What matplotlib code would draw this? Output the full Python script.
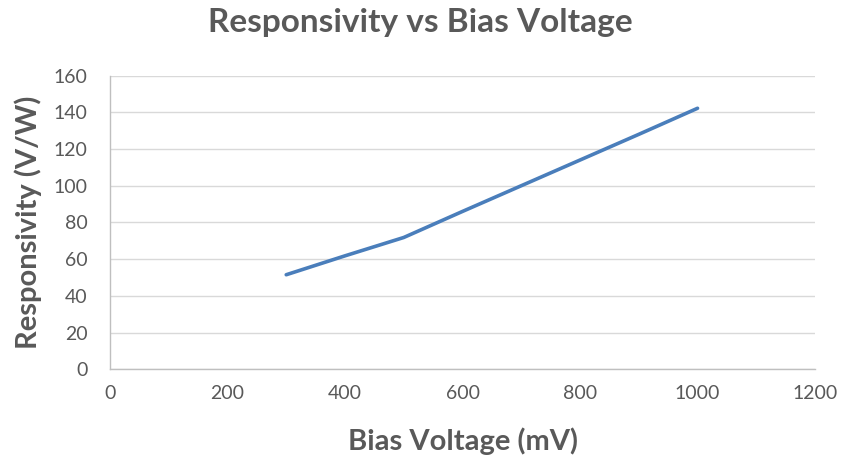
import matplotlib
matplotlib.use("Agg")
import matplotlib.pyplot as plt

# bias sweep (mV) and measured responsivity (V/W)
bias_mv = [300, 400, 500, 600, 700, 800, 900, 1000]
responsivity = [51.5, 61.8, 71.8, 86.0, 100.0, 114.0, 128.0, 142.2]

x_ticks = [0, 200, 400, 600, 800, 1000, 1200]
y_ticks = [0, 20, 40, 60, 80, 100, 120, 140, 160]

text_grey = "#595959"
plt.rcParams["font.family"] = ["Lato", "DejaVu Sans"]

fig = plt.figure(figsize=(8.42, 4.61), dpi=100)
ax = fig.add_axes([0.1306, 0.199, 0.8374, 0.637])

ax.plot(bias_mv, responsivity, color="#4a7ebb", linewidth=2.6,
        solid_joinstyle="round", solid_capstyle="round", zorder=3)

ax.set_xlim(0, 1200)
ax.set_ylim(0, 160)
ax.set_xticks(x_ticks)
ax.set_yticks(y_ticks)
ax.grid(axis="y", color="#d9d9d9", linewidth=1.0)
ax.set_axisbelow(True)

for side in ("top", "right"):
    ax.spines[side].set_visible(False)
for side in ("left", "bottom"):
    ax.spines[side].set_color("#bfbfbf")
    ax.spines[side].set_linewidth(1.0)

ax.tick_params(axis="both", length=0, labelsize=14, labelcolor=text_grey)
ax.tick_params(axis="x", pad=11)
ax.tick_params(axis="y", pad=16)

ax.set_xlabel("Bias Voltage (mV)", fontsize=21, fontweight="bold",
              color=text_grey, va="center")
ax.xaxis.set_label_coords(0.5, -0.244)
ax.set_ylabel("Responsivity (V/W)", fontsize=21, fontweight="bold",
              color=text_grey, va="center")
ax.yaxis.set_label_coords(-0.116, 0.5)
fig.text(0.499, 0.952, "Responsivity vs Bias Voltage", ha="center", va="center",
         fontsize=24, fontweight="bold", color=text_grey)

fig.savefig("out.png", dpi=100)
